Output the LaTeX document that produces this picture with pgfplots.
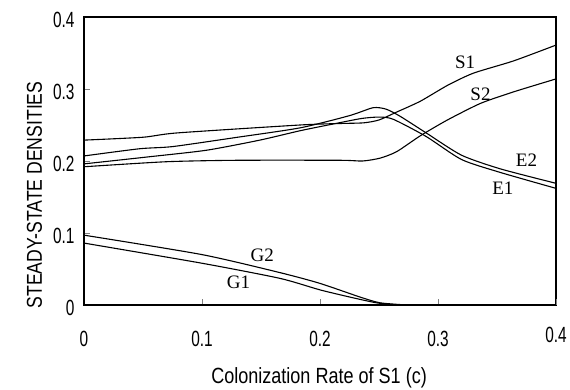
\documentclass[border=0pt]{standalone}
\usepackage{pgfplots}
\pgfplotsset{compat=1.18}
\usepackage{fontspec}
\setmainfont{Liberation Serif}
\newfontfamily\labfont[FakeStretch=0.82]{Liberation Sans}
\newfontfamily\tickfont[FakeStretch=0.7]{Liberation Sans}
\newfontfamily\serif{Liberation Serif}
\usetikzlibrary{calc}
\begin{document}
\begin{tikzpicture}
\begin{axis}[
  scale only axis,
  width=472pt, height=288pt,
  xmin=0, xmax=0.4, ymin=0, ymax=0.4,
  xtick={0,0.1,0.2,0.3},
  extra x ticks={0.4},
  extra x tick style={xticklabel style={yshift=4pt}},
  ytick={0,0.1,0.2,0.3,0.4},
  tick pos=left,
  tick align=inside,
  major tick length=6pt,
  tick style={gray, line width=0.5pt},
  axis line style={line width=1.2pt},
  /pgf/number format/assume math mode=true,
  ticklabel style={font=\tickfont\fontsize{22}{22}\selectfont},
  xticklabel style={yshift=-23pt},
  yticklabel style={xshift=-6pt, yshift=-3pt},
  xlabel={Colonization Rate of S1 (c)},
  ylabel={STEADY-STATE DENSITIES},
  xlabel style={font=\labfont\fontsize{22}{22}\selectfont, at={(axis description cs:0.498,-0.253)}, anchor=center},
  ylabel style={font=\labfont\fontsize{21.5}{21.5}\selectfont, at={(axis description cs:-0.105,0.382)}, anchor=center},
  cycle list={{black, solid, mark=none}},
  every axis plot/.append style={line width=1.1pt, smooth, tension=0.4},
]
% S1
\addplot coordinates {(0,0.229) (0.05,0.233) (0.079,0.239) (0.183,0.250) (0.215,0.252) (0.237,0.253) (0.25,0.257) (0.265,0.268) (0.285,0.283) (0.308,0.305) (0.33,0.322) (0.364,0.339) (0.4,0.361)};
% S2
\addplot coordinates {(0,0.192) (0.07,0.199) (0.13,0.201) (0.217,0.201) (0.236,0.200) (0.251,0.204) (0.265,0.213) (0.285,0.235) (0.308,0.257) (0.336,0.280) (0.364,0.296) (0.4,0.314)};
% E2
\addplot coordinates {(0,0.207) (0.047,0.217) (0.075,0.220) (0.126,0.232) (0.183,0.246) (0.225,0.263) (0.245,0.274) (0.256,0.272) (0.268,0.262) (0.29,0.239) (0.32,0.208) (0.353,0.189) (0.4,0.169)};
% E1
\addplot coordinates {(0,0.196) (0.056,0.206) (0.104,0.215) (0.149,0.229) (0.183,0.242) (0.21,0.251) (0.235,0.259) (0.25,0.261) (0.262,0.258) (0.29,0.234) (0.32,0.202) (0.353,0.184) (0.4,0.162)};
% G2
\addplot coordinates {(0,0.097) (0.1,0.070) (0.166,0.045) (0.2,0.030) (0.234,0.011) (0.251,0.003) (0.274,0)};
% G1
\addplot coordinates {(0,0.086) (0.1,0.058) (0.166,0.037) (0.2,0.021) (0.228,0.010) (0.248,0.003) (0.265,0)};
\node[font=\serif\fontsize{19}{19}\selectfont] at (axis cs:0.323,0.3375) {S1};
\node[font=\serif\fontsize{19}{19}\selectfont] at (axis cs:0.336,0.292) {S2};
\node[font=\serif\fontsize{19}{19}\selectfont] at (axis cs:0.375,0.201) {E2};
\node[font=\serif\fontsize{19}{19}\selectfont] at (axis cs:0.355,0.1625) {E1};
\node[font=\serif\fontsize{19}{19}\selectfont] at (axis cs:0.151,0.069) {G2};
\node[font=\serif\fontsize{19}{19}\selectfont] at (axis cs:0.131,0.031) {G1};
\end{axis}
\pgfresetboundingbox
\path[use as bounding box] ($(current axis.south west)+(-84pt,-85pt)$) rectangle ($(current axis.north east)+(14pt,17pt)$);
\end{tikzpicture}
\end{document}
